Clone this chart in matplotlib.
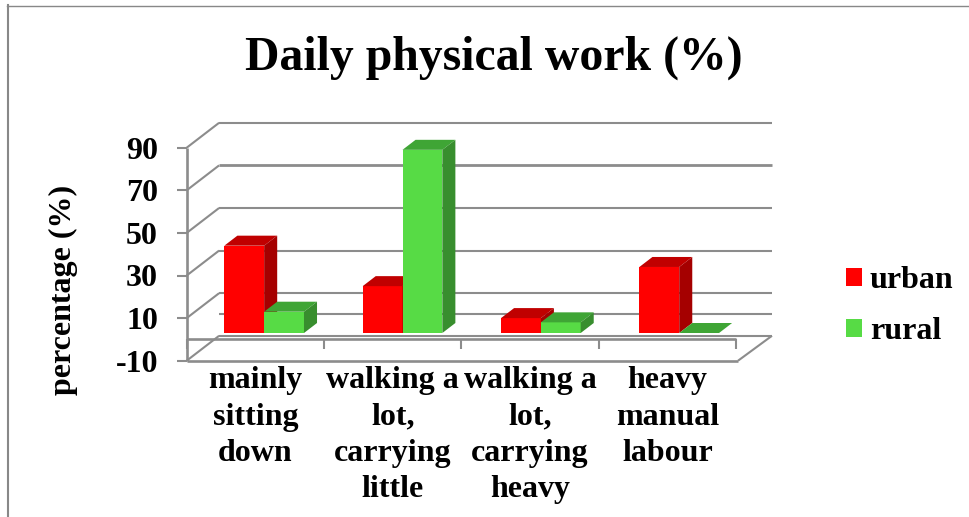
import matplotlib
matplotlib.use('Agg')
import matplotlib.pyplot as plt
from matplotlib.lines import Line2D
from matplotlib.patches import Patch, Polygon

plt.rcParams['font.family'] = ['Liberation Serif', 'DejaVu Serif']
plt.rcParams['font.weight'] = 'bold'

# values
categories = ['mainly\nsitting\ndown', 'walking a\nlot,\ncarrying\nlittle',
              'walking a\nlot,\ncarrying\nheavy', 'heavy\nmanual\nlabour']
urban = [41, 22, 7, 31]
rural = [10, 86, 5, 0]
y_ticks = [-10, 10, 30, 50, 70, 90]

W, H = 969, 517
GREY = '#8c8c8c'

fig = plt.figure(figsize=(W / 100, H / 100), dpi=100)
# axes box is the front plane of the fake 3d chart
ax = fig.add_axes([186.7 / W, 1 - 360.7 / H, (736 - 186.7) / W, (360.7 - 147.7) / H])
ax.set_xlim(0, 4)
ax.set_ylim(-10, 90)
for s in ax.spines.values():
    s.set_visible(False)
ax.patch.set_alpha(0)

# depth of the box and of the bars, in data units
wall_dx, wall_dy = 0.236, 11.7
wall_end = 4 + wall_dx + 0.026
bar_dx, bar_dy = 0.095, 4.7
bar_w = 0.29
bar_base = 3
bar_start = 0.274
bar_pitch = 1.0075


def line(xs, ys, lw=1.5, color=GREY):
    ax.plot(xs, ys, color=color, lw=lw, clip_on=False, solid_capstyle='butt', zorder=1)


# back wall and diagonal lines
for v in y_ticks:
    line([wall_dx, wall_end], [v + wall_dy, v + wall_dy], lw=2.0 if v == 70 else 1.5)
    line([0, wall_dx], [v, v + wall_dy])
line([wall_dx, wall_end], [wall_dy, wall_dy])
line([4.015, wall_end], [-10, -10 + wall_dy])

# front of the box
line([0, 0], [-10, 90], lw=1.9)
line([0, 4.015], [-10, -10], lw=1.9)
line([0, 4], [0, 0], lw=1.9)
for i in range(5):
    line([i, i], [0, -4.4])


def bar3d(x, val, front, top, side):
    ax.bar(x, val, width=bar_w, bottom=bar_base, align='edge', color=front, zorder=3,
           clip_on=False)
    y1 = bar_base + val
    ax.add_patch(Polygon([(x, y1), (x + bar_w, y1), (x + bar_w + bar_dx, y1 + bar_dy),
                          (x + bar_dx, y1 + bar_dy)], fc=top, ec='none', zorder=3, clip_on=False))
    if val > 0:
        ax.add_patch(Polygon([(x + bar_w, bar_base), (x + bar_w + bar_dx, bar_base + bar_dy),
                              (x + bar_w + bar_dx, y1 + bar_dy), (x + bar_w, y1)],
                             fc=side, ec='none', zorder=3, clip_on=False))


for i in range(len(categories)):
    left = bar_start + i * bar_pitch
    bar3d(left, urban[i], '#ff0000', '#c00000', '#a50000')
    bar3d(left + bar_w, rural[i], '#57db45', '#3fa535', '#388e2e')

# axis text
ax.set_yticks(y_ticks)
ax.set_yticklabels([str(v) for v in y_ticks], fontsize=23, fontweight='bold')
ax.tick_params(axis='y', length=7.2, width=1.5, color=GREY, pad=13.5)
ax.set_xticks([i + 0.5 for i in range(len(categories))])
ax.set_xticklabels(categories, fontsize=23, fontweight='bold', linespacing=1.33)
ax.tick_params(axis='x', length=0, pad=4)

fig.text(63 / W, 1 - 290 / H, 'percentage (%)', rotation=90, fontsize=23, fontweight='bold',
         ha='center', va='center')
fig.text(494 / W, 1 - 70 / H, 'Daily physical work (%)', fontsize=34.4, fontweight='bold',
         ha='center', va='baseline')

handles = [Patch(fc='#ff0000', ec='none', label='urban'),
           Patch(fc='#57db45', ec='none', label='rural')]
fig.legend(handles=handles, loc='upper left', bbox_to_anchor=(846 / W, 1 - 266 / H),
           frameon=False, borderpad=0, borderaxespad=0, handlelength=0.5,
           handleheight=0.5, handletextpad=0.25, labelspacing=0.69,
           prop={'size': 23, 'weight': 'bold'})

# outer frame, only top and left are in the picture
fig.add_artist(Line2D([7 / W, 1], [1 - 5.5 / H, 1 - 5.5 / H], color='#888888', lw=1.0))
fig.add_artist(Line2D([7.5 / W, 7.5 / W], [0, 1 - 5 / H], color='#888888', lw=1.5))

fig.savefig('out.png', dpi=100)
